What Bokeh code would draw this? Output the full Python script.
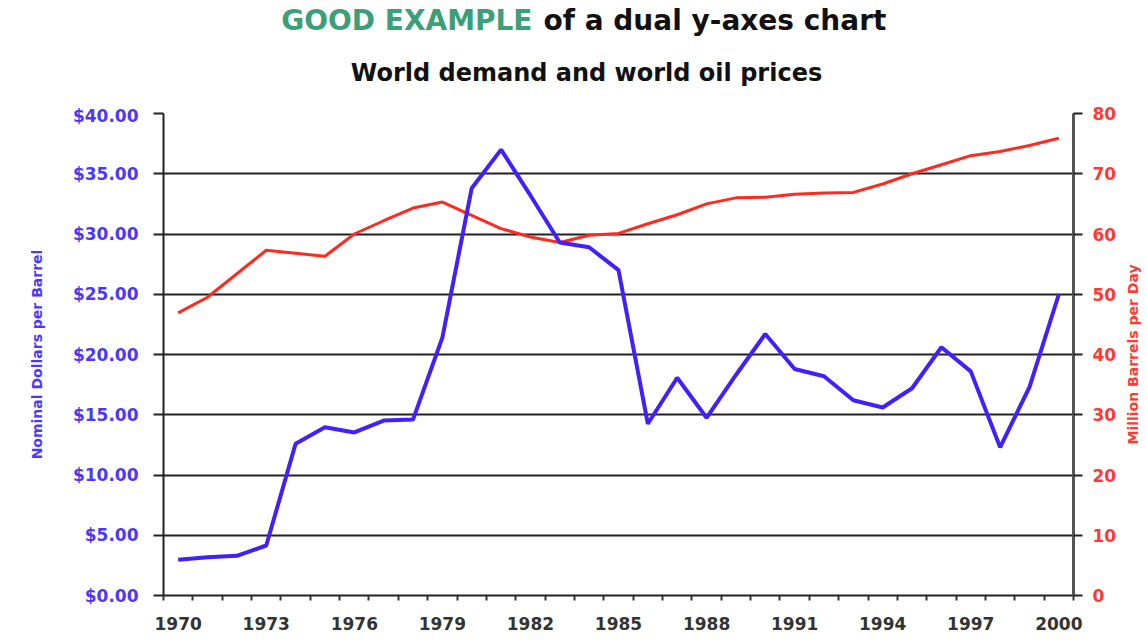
import math
from bokeh.plotting import figure
from bokeh.layouts import column, row
from bokeh.models import (Range1d, LinearAxis, FixedTicker, NumeralTickFormatter, Label)
from bokeh.embed import file_html
from bokeh.resources import INLINE

# ---- data ----
years = list(range(1970, 2001))
price = [2.96, 3.18, 3.29, 4.15, 12.59, 13.97, 13.53, 14.52, 14.60, 21.40,
         33.80, 37.00, 33.20, 29.30, 28.90, 27.00, 14.25, 18.07, 14.75, 18.30,
         21.70, 18.80, 18.20, 16.20, 15.60, 17.20, 20.60, 18.60, 12.30, 17.30,
         25.00]
demand = [46.9, 49.5, 53.4, 57.3, 56.8, 56.3, 60.0, 62.2, 64.3, 65.3,
          63.1, 60.9, 59.5, 58.6, 59.8, 60.1, 61.7, 63.2, 65.0, 66.0,
          66.1, 66.6, 66.8, 66.9, 68.3, 70.0, 71.5, 73.0, 73.7, 74.7,
          75.9]
x_tick_labels = ["1970", "1973", "1976", "1979", "1982", "1985", "1988",
                 "1991", "1994", "1997", "2000"]
left_ticks = [0, 5, 10, 15, 20, 25, 30, 35, 40]
right_ticks = [0, 10, 20, 30, 40, 50, 60, 70, 80]

title_green = "GOOD EXAMPLE"
title_rest = "of a dual y-axes chart"
subtitle = "World demand and world oil prices"
left_label = "Nominal Dollars per Barrel"
right_label = "Million Barrels per Day"

BLUE = "#4020ff"
BLUE_TXT = "#4a38ff"
RED = "#ff2a1f"
RED_TXT = "#ff3a34"
GREEN = "#3c9f78"

W_TOTAL = 1147
W_SIDE = 26
W = W_TOTAL - W_SIDE
TOP_H = 105
MAIN_H = 536
FRAME_L = 163
FRAME_R = 1073
FRAME_T = 113
FRAME_B = 595

# ---- title strip ----
t = figure(width=W, height=TOP_H, output_backend="svg", toolbar_location=None,
           x_range=Range1d(FRAME_L, FRAME_R), y_range=Range1d(TOP_H, 0),
           min_border=0, x_axis_location=None, y_axis_location=None)
t.outline_line_color = None
t.grid.visible = False
t.background_fill_color = "#ffffff"
t.border_fill_color = "#ffffff"
t.add_layout(Label(x=532, y=20, text=title_green, text_align="right",
                   text_baseline="middle", text_font="DejaVu Sans",
                   text_font_style="bold", text_font_size="28px", text_color=GREEN))
t.add_layout(Label(x=543, y=20, text=title_rest, text_align="left",
                   text_baseline="middle", text_font="DejaVu Sans",
                   text_font_style="bold", text_font_size="28px", text_color="#111111"))
t.add_layout(Label(x=586, y=72, text=subtitle, text_align="center",
                   text_baseline="middle", text_font="DejaVu Sans",
                   text_font_style="bold", text_font_size="24px", text_color="#111111"))

# ---- main chart ----
p = figure(width=W, height=MAIN_H, output_backend="svg", toolbar_location=None,
           x_range=Range1d(years[0] - 0.5, years[-1] + 0.5),
           y_range=Range1d(0, 40),
           min_border_left=FRAME_L, min_border_right=W - FRAME_R,
           min_border_top=FRAME_T - TOP_H, min_border_bottom=TOP_H + MAIN_H - FRAME_B,
           x_axis_location=None, y_axis_location=None)
p.outline_line_color = None
p.background_fill_color = "#ffffff"
p.border_fill_color = "#ffffff"
p.extra_y_ranges = {"demand": Range1d(0, 80)}

p.xgrid.visible = False
p.ygrid.ticker = FixedTicker(ticks=left_ticks)
p.ygrid.grid_line_color = "#222222"
p.ygrid.grid_line_width = 2

xax = LinearAxis(ticker=FixedTicker(ticks=[int(v) for v in x_tick_labels],
                                    minor_ticks=[y - 0.5 for y in years] + [years[-1] + 0.5]))
xax.axis_line_color = "#222222"
xax.axis_line_width = 2
xax.major_tick_out = 0
xax.major_tick_in = 0
xax.minor_tick_out = 5
xax.minor_tick_in = 0
xax.minor_tick_line_color = "#333333"
xax.minor_tick_line_width = 2
xax.major_label_standoff = 16
xax.major_label_text_font = "DejaVu Sans"
xax.major_label_text_font_style = "bold"
xax.major_label_text_font_size = "17px"
xax.major_label_text_color = "#333333"
p.add_layout(xax, "below")

lax = LinearAxis(ticker=FixedTicker(ticks=left_ticks),
                 formatter=NumeralTickFormatter(format="$0.00"))
lax.axis_line_color = "#222222"
lax.axis_line_width = 2
lax.major_tick_out = 10
lax.major_tick_in = 0
lax.major_tick_line_width = 2
lax.major_tick_line_color = "#222222"
lax.minor_tick_line_color = None
lax.major_label_standoff = 15
lax.major_label_text_font = "DejaVu Sans"
lax.major_label_text_font_style = "bold"
lax.major_label_text_font_size = "17px"
lax.major_label_text_color = BLUE_TXT
lax.axis_label = left_label
lax.axis_label_text_font = "DejaVu Sans"
lax.axis_label_text_font_style = "bold"
lax.axis_label_text_font_size = "14px"
lax.axis_label_text_color = BLUE_TXT
lax.axis_label_standoff = 25
p.add_layout(lax, "left")

rax = LinearAxis(y_range_name="demand", ticker=FixedTicker(ticks=right_ticks))
rax.axis_line_color = "#555555"
rax.axis_line_width = 3
rax.major_tick_out = 9
rax.major_tick_in = 0
rax.major_tick_line_width = 2
rax.major_tick_line_color = "#222222"
rax.minor_tick_line_color = None
rax.major_label_standoff = 10
rax.major_label_text_font = "DejaVu Sans"
rax.major_label_text_font_style = "bold"
rax.major_label_text_font_size = "17px"
rax.major_label_text_color = RED_TXT
p.add_layout(rax, "right")

p.line(years, demand, y_range_name="demand", line_color=RED, line_width=3)
p.line(years, price, line_color=BLUE, line_width=4)

# ---- right-hand axis title strip (reads bottom-to-top) ----
r = figure(width=W_SIDE, height=TOP_H + MAIN_H, output_backend="svg", toolbar_location=None,
           x_range=Range1d(0, 1), y_range=Range1d(0, 1),
           min_border_left=0, min_border_right=0,
           min_border_top=FRAME_T, min_border_bottom=TOP_H + MAIN_H - FRAME_B,
           x_axis_location=None, y_axis_location=None)
r.outline_line_color = None
r.grid.visible = False
r.background_fill_color = "#ffffff"
r.border_fill_color = "#ffffff"
r.add_layout(Label(x=0.45, y=0.5, text=right_label, text_align="center",
                   text_baseline="middle", angle=math.pi / 2,
                   text_font="DejaVu Sans", text_font_style="bold",
                   text_font_size="14px", text_color=RED_TXT))

layout = row(column(t, p, spacing=0), r, spacing=0)
open("out.html", "w").write(file_html(layout, INLINE))
